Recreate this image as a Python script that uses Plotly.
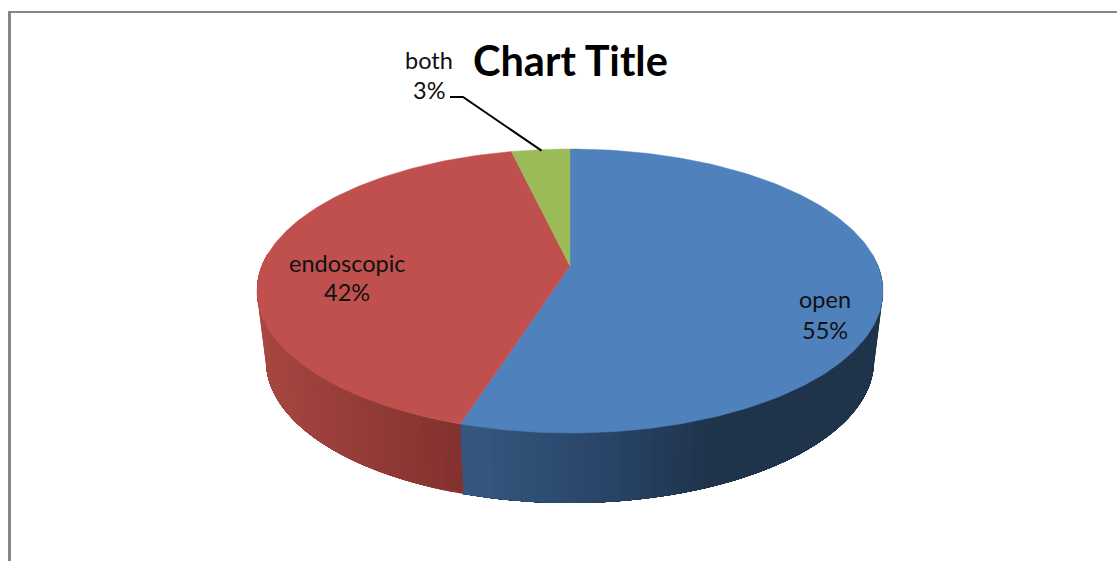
import numpy as np
import plotly.graph_objects as go

categories = ["open", "endoscopic", "both"]
shares = [55.7, 41.3, 3.0]
label_percent = [55, 42, 3]
top_colors = ["#4f81bd", "#c0504d", "#9bbb59"]
title_text = "Chart Title"

CX, CY, RX, RY = 570.0, 291.0, 313.0, 142.0
APEX_Y = 266.0
BCY, BRX, BRY = 361.0, 304.0, 142.0
FONT = "Lato"


def top_rim(t):
    return CX + RX * np.sin(t), CY - RY * np.cos(t)


def bottom_rim(t):
    return CX + BRX * np.sin(t), BCY - BRY * np.cos(t)


def lerp_color(stops, x):
    xs = [s[0] for s in stops]
    c = [int(np.interp(x, xs, [s[1][i] for s in stops])) for i in range(3)]
    return f"rgb({c[0]},{c[1]},{c[2]})"


wall_stops = {
    0: [(465, (54, 88, 128)), (600, (42, 70, 105)), (720, (31, 51, 74)), (900, (31, 51, 74))],
    1: [(258, (168, 71, 66)), (360, (148, 60, 56)), (465, (130, 50, 48))],
}

fig = go.Figure()

edges = np.radians(np.concatenate([[0], np.cumsum(shares)]) * 3.6)

# side wall: each band runs on to the end of the slice and the next one paints over it,
# so that no seams show between the shades
for i in (0, 1):
    a0, a1 = edges[i], edges[i + 1]
    lo, hi = max(a0, np.radians(75)), min(a1, np.radians(285))
    cuts = np.linspace(lo, hi, int(np.degrees(hi - lo) / 2.0) + 2)
    for s in cuts[:-1]:
        t = np.linspace(s, hi, 60)
        xt, yt = top_rim(t)
        xb, yb = bottom_rim(t[::-1])
        next_s = s + (cuts[1] - cuts[0])
        col = lerp_color(wall_stops[i], float(top_rim((s + next_s) / 2)[0]))
        fig.add_trace(go.Scatter(
            x=np.concatenate([xt, xb]), y=np.concatenate([yt, yb]),
            mode="lines", fill="toself", fillcolor=col,
            line=dict(color=col, width=0), hoverinfo="skip", showlegend=False))

# top face
for i, name in enumerate(categories):
    t = np.linspace(edges[i], edges[i + 1], 180)
    xr, yr = top_rim(t)
    fig.add_trace(go.Scatter(
        x=np.concatenate([[CX], xr, [CX]]), y=np.concatenate([[APEX_Y], yr, [APEX_Y]]),
        mode="lines", fill="toself", fillcolor=top_colors[i],
        line=dict(color=top_colors[i], width=0.5), name=name,
        hoverinfo="name", showlegend=False))

# leader line of the smallest slice
mid = (edges[2] + edges[3]) / 2
lx, ly = top_rim(mid)
fig.add_trace(go.Scatter(
    x=[450, 463, lx + 1], y=[97, 97, ly + 1], mode="lines",
    line=dict(color="#000000", width=2), hoverinfo="skip", showlegend=False))

# chart frame
fig.add_trace(go.Scatter(
    x=[9.5, 9.5], y=[561, 11], mode="lines",
    line=dict(color="#868686", width=3), hoverinfo="skip", showlegend=False))
fig.add_trace(go.Scatter(
    x=[8, 1117], y=[12, 12], mode="lines",
    line=dict(color="#868686", width=2), hoverinfo="skip", showlegend=False))

label_pos = [(825, 299, 330), (347, 263, 292), (429, 60, 90)]
for name, pct, (x, y1, y2) in zip(categories, label_percent, label_pos):
    fig.add_annotation(x=x, y=y1, text=name, showarrow=False,
                       font=dict(family=FONT, size=23.5, color="#111111"))
    fig.add_annotation(x=x, y=y2, text=f"{pct}%", showarrow=False,
                       font=dict(family=FONT, size=23.5, color="#111111"))

fig.add_annotation(x=570, y=60, text=f"<b>{title_text}</b>", showarrow=False,
                   font=dict(family=FONT, size=41.5, color="#000000"))

fig.update_layout(
    width=1117, height=561, margin=dict(l=0, r=0, t=0, b=0),
    paper_bgcolor="#ffffff", plot_bgcolor="#ffffff", showlegend=False,
    xaxis=dict(range=[0, 1117], visible=False, fixedrange=True),
    yaxis=dict(range=[561, 0], visible=False, fixedrange=True),
)

fig.write_html("out.html", config={"displayModeBar": False},
               post_script="document.body.style.margin='0';document.body.style.overflow='hidden';")
